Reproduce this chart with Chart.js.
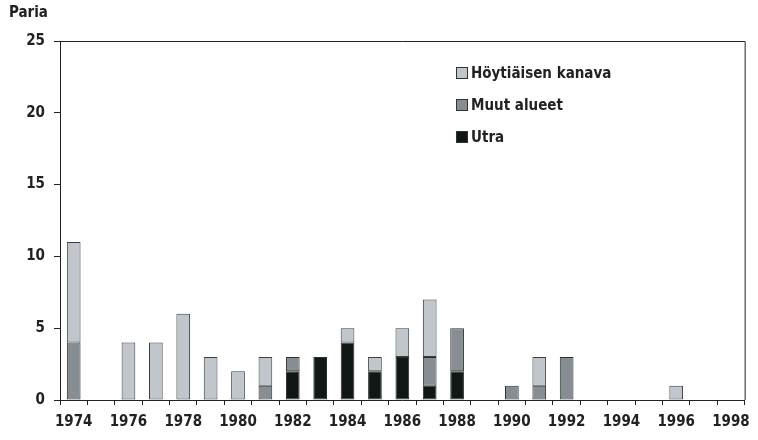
<!DOCTYPE html>
<html><head><meta charset="utf-8">
<script src="https://cdn.jsdelivr.net/npm/chart.js@4"></script>
<style>html,body{margin:0;padding:0;background:#fff}#wrap{width:758px;height:440px;position:relative}</style>
</head><body><div id="wrap"><canvas id="c" width="758" height="440"></canvas></div>
<script>
const years = ["1974","1975","1976","1977","1978","1979","1980","1981","1982","1983","1984","1985","1986","1987","1988","1989","1990","1991","1992","1993","1994","1995","1996","1997","1998"];
const utra  = [null,null,null,null,null,null,null,null,2,3,4,2,3,1,2,null,null,null,null,null,null,null,null,null,null];
const muut  = [4,null,null,null,null,null,null,1,1,null,null,null,null,2,3,null,1,1,3,null,null,null,null,null,null];
const hoyt  = [7,null,4,4,6,3,2,2,null,null,1,1,2,4,null,null,null,2,null,null,null,null,1,null,null];
const yTicks = [0,5,10,15,20,25];
const seriesNames = ["Höytiäisen kanava","Muut alueet","Utra"];
const seriesColors = ["#c0c6cb","#868e93","#101715"];
const FONT = "'Liberation Sans Narrow','DejaVu Sans Condensed','Arial Narrow',sans-serif";

const framePlugin = {
  id:'frame',
  afterDraw(chart){
    const {ctx, chartArea:a} = chart;
    ctx.save();
    ctx.strokeStyle='#222'; ctx.lineWidth=1;
    ctx.beginPath();
    ctx.moveTo(a.left, a.top+0.5); ctx.lineTo(a.right+0.5, a.top+0.5); ctx.lineTo(a.right+0.5, a.bottom);
    ctx.stroke();
    ctx.fillStyle='#222'; ctx.font="bold 15px "+FONT; ctx.textBaseline='middle'; ctx.textAlign='left';
    ctx.fillText("Paria", 9, 13);
    [0,1,2].forEach((k,i)=>{
      const y=67+i*32;
      ctx.fillStyle=seriesColors[k]; ctx.fillRect(456,y,12,12);
      ctx.strokeStyle='#333'; ctx.strokeRect(456.5,y+0.5,11,11);
      ctx.fillStyle='#222'; ctx.fillText(seriesNames[k], 471, y+7);
    });
    ctx.restore();
  }
};

const common = {borderWidth:1,borderSkipped:false,barPercentage:0.5,categoryPercentage:1};
new Chart(document.getElementById('c'),{
  type:'bar',
  data:{labels:years,datasets:[
    Object.assign({label:seriesNames[2],data:utra,backgroundColor:seriesColors[2],borderColor:'#2a2f2e'},common),
    Object.assign({label:seriesNames[1],data:muut,backgroundColor:seriesColors[1],borderColor:'#2a2f2e'},common),
    Object.assign({label:seriesNames[0],data:hoyt,backgroundColor:seriesColors[0],borderColor:'#3a3f40'},common)
  ]},
  options:{
    responsive:false,animation:false,
    layout:{padding:{top:41,right:13,left:0,bottom:0}},
    plugins:{legend:{display:false},tooltip:{enabled:false}},
    scales:{
      x:{stacked:true,
        afterFit(s){s.height=40;},
        grid:{display:true,drawOnChartArea:false,offset:true,tickLength:5,color:'#222'},
        border:{color:'#222',width:1},
        ticks:{autoSkip:false,maxRotation:0,color:'#222',padding:8,font:{family:FONT,size:15,weight:'bold'},
          callback(v,i){return i%2===0?years[i]:'';}}
      },
      y:{stacked:true,min:0,max:25,
        afterFit(s){s.width=60;},
        afterBuildTicks(s){s.ticks=yTicks.map(v=>({value:v}));},
        grid:{display:true,drawOnChartArea:false,tickLength:6,color:'#222'},
        border:{color:'#222',width:1},
        ticks:{color:'#222',padding:9,font:{family:FONT,size:15,weight:'bold'}}
      }
    }
  },
  plugins:[framePlugin]
});
</script></body></html>
